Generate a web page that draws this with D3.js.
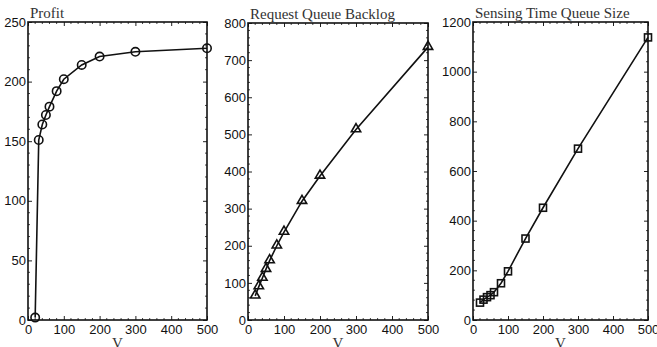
<!DOCTYPE html>
<html>
<head>
<meta charset="utf-8">
<script src="https://cdn.jsdelivr.net/npm/d3@7"></script>
<style>
  body { margin: 0; background: #fff; }
  .tick text { font-family: "Liberation Sans", Arial, sans-serif; font-size: 13px; fill: #111; }
  .title, .xlabel { font-family: "Liberation Serif", "DejaVu Serif", serif; font-size: 15px; fill: #333; }
</style>
</head>
<body>
<svg id="chart" width="657" height="347"></svg>
<script>
// shared x values
const vValues = [20, 30, 40, 50, 60, 80, 100, 150, 200, 300, 500];

const profit = [2, 151, 164, 172, 179, 192, 202, 214, 221, 225, 228];
const requestBacklog = [65, 90, 113, 137, 160, 200, 237, 320, 388, 513, 735];
const sensingQueue = [70, 82, 92, 100, 112, 148, 196, 328, 452, 690, 1138];

const xTicks = [0, 100, 200, 300, 400, 500];
const profitTicks = [0, 50, 100, 150, 200, 250];
const requestTicks = [0, 100, 200, 300, 400, 500, 600, 700, 800];
const sensingTicks = [0, 200, 400, 600, 800, 1000, 1200];

const panels = [
  { title: 'Profit', values: profit, yMax: 250, yTicks: profitTicks, marker: 'circle',
    box: { left: 28, right: 207, top: 22, bottom: 320 } },
  { title: 'Request Queue Backlog', values: requestBacklog, yMax: 800, yTicks: requestTicks, marker: 'triangle',
    box: { left: 248, right: 428, top: 23, bottom: 320 } },
  { title: 'Sensing Time Queue Size', values: sensingQueue, yMax: 1200, yTicks: sensingTicks, marker: 'square',
    box: { left: 473, right: 648, top: 22, bottom: 320 } }
];

const svg = d3.select('#chart');
const fmt = d3.format('d');

function minorTicks(major) {
  const out = [];
  for (let i = 0; i < major.length - 1; i++) {
    const step = (major[i + 1] - major[i]) / 5;
    for (let k = 1; k < 5; k++) out.push(major[i] + k * step);
  }
  return out;
}

panels.forEach(p => {
  const b = p.box;
  const x = d3.scaleLinear().domain([0, 500]).range([b.left, b.right]);
  const y = d3.scaleLinear().domain([0, p.yMax]).range([b.bottom, b.top]);
  const g = svg.append('g');

  // inside ticks on all four sides, major + minor
  const axes = [
    [d3.axisBottom(x).tickValues(xTicks).tickFormat(fmt), 'translate(0,' + b.bottom + ')', 5],
    [d3.axisTop(x).tickValues(xTicks).tickFormat(''), 'translate(0,' + b.top + ')', 0],
    [d3.axisLeft(y).tickValues(p.yTicks).tickFormat(fmt), 'translate(' + b.left + ',0)', 2],
    [d3.axisRight(y).tickValues(p.yTicks).tickFormat(''), 'translate(' + b.right + ',0)', 0]
  ];
  axes.forEach(([ax, tr, pad]) => {
    const a = g.append('g').attr('transform', tr)
      .call(ax.tickSizeInner(-4).tickSizeOuter(0).tickPadding(pad));
    a.select('.domain').remove();
    a.selectAll('line').attr('stroke', '#222');
  });

  const minX = minorTicks(xTicks), minY = minorTicks(p.yTicks);
  g.selectAll(null).data(minX).enter().append('line')
    .attr('x1', d => x(d)).attr('x2', d => x(d))
    .attr('y1', b.bottom).attr('y2', b.bottom - 2).attr('stroke', '#444');
  g.selectAll(null).data(minX).enter().append('line')
    .attr('x1', d => x(d)).attr('x2', d => x(d))
    .attr('y1', b.top).attr('y2', b.top + 2).attr('stroke', '#444');
  g.selectAll(null).data(minY).enter().append('line')
    .attr('y1', d => y(d)).attr('y2', d => y(d))
    .attr('x1', b.left).attr('x2', b.left + 2).attr('stroke', '#444');
  g.selectAll(null).data(minY).enter().append('line')
    .attr('y1', d => y(d)).attr('y2', d => y(d))
    .attr('x1', b.right).attr('x2', b.right - 2).attr('stroke', '#444');

  g.append('rect')
    .attr('x', b.left).attr('y', b.top)
    .attr('width', b.right - b.left).attr('height', b.bottom - b.top)
    .attr('fill', 'none').attr('stroke', '#111').attr('stroke-width', 1.6);

  const pts = vValues.map((v, i) => [v, p.values[i]]);
  g.append('path').datum(pts)
    .attr('fill', 'none').attr('stroke', '#111').attr('stroke-width', 1.6)
    .attr('d', d3.line().x(d => x(d[0])).y(d => y(d[1])));

  const mk = g.selectAll(null).data(pts).enter();
  if (p.marker === 'circle') {
    mk.append('circle').attr('cx', d => x(d[0])).attr('cy', d => y(d[1])).attr('r', 4.2)
      .attr('fill', 'none').attr('stroke', '#111').attr('stroke-width', 1.6);
  } else if (p.marker === 'triangle') {
    mk.append('path')
      .attr('d', d3.symbol(d3.symbolTriangle, 38))
      .attr('transform', d => 'translate(' + x(d[0]) + ',' + (y(d[1]) - 0.5) + ')')
      .attr('fill', 'none').attr('stroke', '#111').attr('stroke-width', 1.6);
  } else {
    mk.append('rect').attr('x', d => x(d[0]) - 3.5).attr('y', d => y(d[1]) - 3.5)
      .attr('width', 7).attr('height', 7)
      .attr('fill', 'none').attr('stroke', '#111').attr('stroke-width', 1.6);
  }

  g.append('text').attr('class', 'title')
    .attr('x', b.left + 2).attr('y', b.top - 4).text(p.title);
  g.append('text').attr('class', 'xlabel')
    .attr('x', (b.left + b.right) / 2).attr('y', 348).attr('text-anchor', 'middle').text('V');
});
</script>
</body>
</html>
